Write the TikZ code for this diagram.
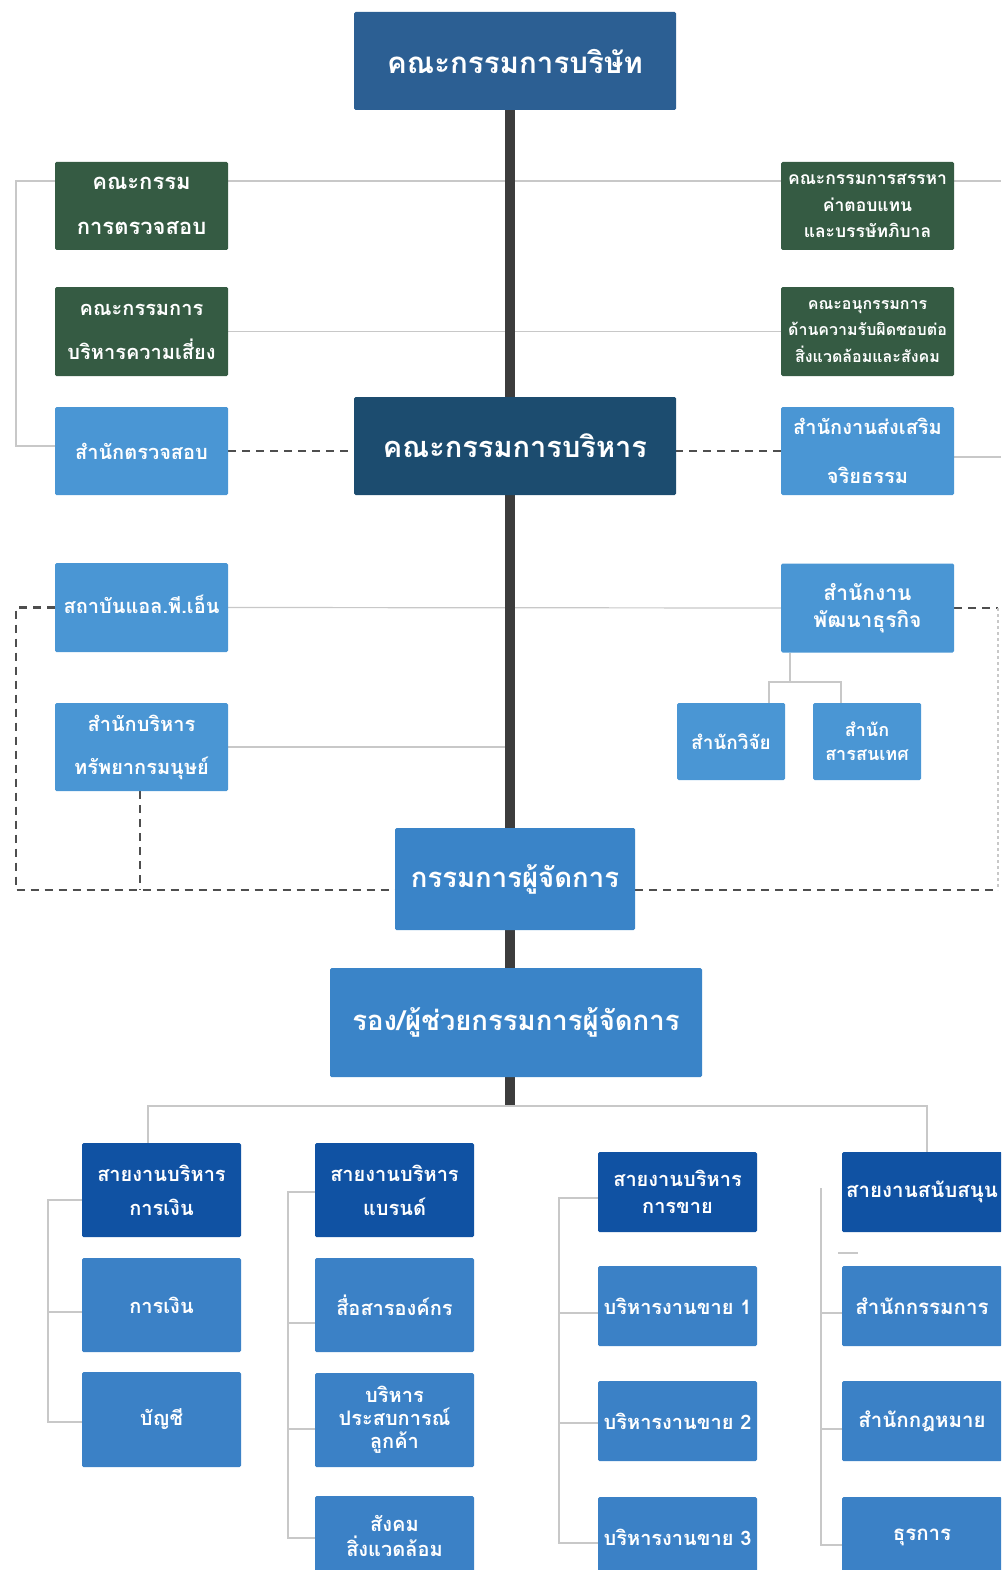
\documentclass[tikz,border=0pt]{standalone}
\usepackage{fontspec}
\newfontfamily\thai[Script=Thai]{Loma}
\usetikzlibrary{backgrounds}
\definecolor{boardc}{HTML}{2C5F93}
\definecolor{execc}{HTML}{1C4C6F}
\definecolor{greenc}{HTML}{355B43}
\definecolor{lightc}{HTML}{4A96D4}
\definecolor{mdc}{HTML}{3A84C8}
\definecolor{headc}{HTML}{1052A3}
\definecolor{itemc}{HTML}{3B81C6}
\definecolor{trunkc}{HTML}{3C3C3C}
\definecolor{glc}{HTML}{C8C8C8}
\definecolor{dshc}{HTML}{4E4E4E}
\tikzset{
  bx/.style={rectangle, rounded corners=1.5pt, inner sep=0pt, text=white, align=center},
  sz/.style 2 args={minimum width=#1pt, minimum height=#2pt},
  fs/.style 2 args={font=\thai\bfseries\fontsize{#1}{#2}\selectfont},
  gl/.style={draw=glc, line width=1.2pt},
  dsh/.style={draw=dshc, line width=2.4pt, dash pattern=on 8pt off 6pt},
  fdsh/.style={draw=glc, line width=1.2pt, dash pattern=on 3pt off 3pt},
  trunk/.style={draw=trunkc, line width=10pt}
}
\begin{document}
\begin{tikzpicture}[x=1pt,y=-1pt]
\path[use as bounding box] (0,0) rectangle (1001,1570);
\clip (0,0) rectangle (1001,1570);
% top
\node[bx, fill=boardc, sz={322}{98}, fs={29.5}{34}] (board) at (515,61) {คณะกรรมการบริษัท};
\node[bx, fill=execc, sz={322}{98}, fs={29}{34}] (exec) at (515,446) {คณะกรรมการบริหาร};
\node[bx, fill=greenc, sz={173}{88}, fs={22}{45}] (audc) at (141.5,206) {คณะกรรม\\การตรวจสอบ};
\node[bx, fill=greenc, sz={173}{89}, fs={20}{44}] (risk) at (141.5,331.5) {คณะกรรมการ\\บริหารความเสี่ยง};
\node[bx, fill=lightc, sz={173}{88}, fs={20}{40}] (audo) at (141.5,451) {สำนักตรวจสอบ};
\node[bx, fill=greenc, sz={173}{88}, fs={17.5}{26.5}] (nom) at (867.5,206) {คณะกรรมการสรรหา\\ค่าตอบแทน\\และบรรษัทภิบาล};
\node[bx, fill=greenc, sz={173}{89}, fs={16}{26.5}] (csr) at (867.5,331.5) {คณะอนุกรรมการ\\ด้านความรับผิดชอบต่อ\\สิ่งแวดล้อมและสังคม};
\node[bx, fill=lightc, sz={173}{88}, fs={20}{49}] (eth) at (867.5,451) {สำนักงานส่งเสริม\\จริยธรรม};
\node[bx, fill=lightc, sz={173}{89}] (lpn) at (141.5,607.5) {};
\node[fs={20}{24}, text=white, inner sep=0pt] (lpnt) at (141.5,604) {สถาบันแอล.พี.เอ็น};
\node[bx, fill=lightc, sz={173}{89}, fs={21}{27}] (dev) at (867.5,608) {สำนักงาน\\พัฒนาธุรกิจ};
\node[bx, fill=lightc, sz={173}{88}, fs={20}{43}] (hr) at (141.5,747) {สำนักบริหาร\\ทรัพยากรมนุษย์};
\node[bx, fill=lightc, sz={108}{77}, fs={19}{24}] (res) at (731,741.5) {สำนักวิจัย};
\node[bx, fill=lightc, sz={108}{77}, fs={18}{24}] (it) at (867,741.5) {สำนัก\\สารสนเทศ};
\node[bx, fill=mdc, sz={240}{102}, fs={27.5}{32}] (md) at (515,879) {กรรมการผู้จัดการ};
\node[bx, fill=mdc, sz={372}{109}, fs={27.5}{32}] (dmd) at (516,1022.5) {รอง/ผู้ช่วยกรรมการผู้จัดการ};
% columns
\node[bx, fill=headc, sz={159}{94}, fs={20}{34}] (h1) at (161.5,1190) {สายงานบริหาร\\การเงิน};
\node[bx, fill=itemc, sz={159}{94}, fs={20}{26}] (f1) at (161.5,1305) {การเงิน};
\node[bx, fill=itemc, sz={159}{95}, fs={20}{26}] (f2) at (161.5,1419.5) {บัญชี};
\node[bx, fill=headc, sz={159}{94}, fs={20}{34}] (h2) at (394.5,1190) {สายงานบริหาร\\แบรนด์};
\node[bx, fill=itemc, sz={159}{94}, fs={20}{26}] (b1) at (394.5,1305) {สื่อสารองค์กร};
\node[bx, fill=itemc, sz={159}{94}, fs={20}{23}] (b2) at (394.5,1420) {บริหาร\\ประสบการณ์\\ลูกค้า};
\node[bx, fill=itemc, sz={159}{94}, fs={20}{25}, text depth=14pt] (b3) at (394.5,1543) {สังคม\\สิ่งแวดล้อม};
\node[bx, fill=headc, sz={159}{80}, fs={20}{27}] (h3) at (677.5,1192) {สายงานบริหาร\\การขาย};
\node[bx, fill=itemc, sz={159}{80}, fs={20}{26}] (s1) at (677.5,1306) {บริหารงานขาย 1};
\node[bx, fill=itemc, sz={159}{80}, fs={20}{26}] (s2) at (677.5,1421) {บริหารงานขาย 2};
\node[bx, fill=itemc, sz={159}{80}, fs={20}{26}] (s3) at (677.5,1537) {บริหารงานขาย 3};
\node[bx, fill=headc, sz={160}{80}, fs={20.5}{26}] (h4) at (922,1192) {สายงานสนับสนุน};
\node[bx, fill=itemc, sz={160}{80}, fs={20.5}{26}] (a1) at (922,1306) {สำนักกรรมการ};
\node[bx, fill=itemc, sz={160}{80}, fs={20.5}{26}] (a2) at (922,1421) {สำนักกฎหมาย};
\node[bx, fill=itemc, sz={160}{80}, fs={20.5}{26}] (a3) at (922,1537) {ธุรการ};
% coordinates
\coordinate (tb) at (510,1106);
\coordinate (lb1) at (16,181);
\coordinate (lb2) at (16,446);
\coordinate (rb1) at (1001,181);
\coordinate (rb2) at (1001,457);
\coordinate (dl) at (16,890);
\coordinate (dh) at (140,890);
\coordinate (dr) at (998,890);
\coordinate (dj) at (790,682);
\coordinate (djl) at (769,682);
\coordinate (djr) at (841,682);
\coordinate (busL) at (148,1106);
\coordinate (busR) at (927,1106);
\coordinate (c1a) at (48,1200);
\coordinate (c1b) at (48,1312);
\coordinate (c1c) at (48,1422);
\coordinate (c2a) at (288,1192);
\coordinate (c2b) at (288,1323);
\coordinate (c2c) at (288,1429);
\coordinate (c2d) at (288,1538);
\coordinate (c3a) at (559,1198);
\coordinate (c3b) at (559,1313);
\coordinate (c3c) at (559,1423);
\coordinate (c3d) at (559,1543);
\coordinate (c4a) at (821,1188);
\coordinate (c4b) at (821,1313);
\coordinate (c4c) at (821,1429);
\coordinate (c4d) at (821,1545);
\coordinate (st1) at (838,1253);
\coordinate (st2) at (858,1253);
\begin{pgfonlayer}{background}
% thin gray
\draw[gl] (lb2 -| audo.west) -- (lb2) -- (lb1) -- (rb1);
\draw[gl] (eth.east |- rb2) -- (rb2);
\draw[gl] (risk.east) -- (csr.west);
\draw[gl] (lpn.east) -- (dev.west);
\draw[gl] (hr.east) -- (hr.east -| tb);
\draw[gl] (dev.south -| dj) -- (dj);
\draw[gl] (djl |- res.north) -- (djl) -- (djr) -- (djr |- it.north);
% trunk
\draw[trunk] (board.south -| tb) -- (tb);
% bottom bus
\draw[gl] (busL |- h1.north) -- (busL) -- (busR) -- (busR |- h4.north);
\draw[gl] (c1a -| h1.west) -- (c1a) -- (c1c) -- (c1c -| f2.west);
\draw[gl] (c1b) -- (c1b -| f1.west);
\draw[gl] (c2a -| h2.west) -- (c2a) -- (c2d) -- (c2d -| b3.west);
\draw[gl] (c2b) -- (c2b -| b1.west);
\draw[gl] (c2c) -- (c2c -| b2.west);
\draw[gl] (c3a -| h3.west) -- (c3a) -- (c3d) -- (c3d -| s3.west);
\draw[gl] (c3b) -- (c3b -| s1.west);
\draw[gl] (c3c) -- (c3c -| s2.west);
\draw[gl] (c4a) -- (c4d) -- (c4d -| a3.west);
\draw[gl] (c4b) -- (c4b -| a1.west);
\draw[gl] (c4c) -- (c4c -| a2.west);
\draw[gl] (st1) -- (st2);
% dashed
\draw[dsh] (audo.east) -- (audo.east -| exec.west);
\draw[dsh] (eth.west) -- (eth.west -| exec.east);
\draw[dsh] (lpn.west) -- (lpn.west -| dl) -- (dl) -- (dl -| md.west);
\draw[dsh] (hr.south -| dh) -- (dh);
\draw[dsh] (dev.east) -- (dev.east -| dr);
\draw[fdsh] (dev.east -| dr) -- (dr);
\draw[dsh] (md.east) ++(0,11) -- (dr);
\end{pgfonlayer}
\end{tikzpicture}
\end{document}
